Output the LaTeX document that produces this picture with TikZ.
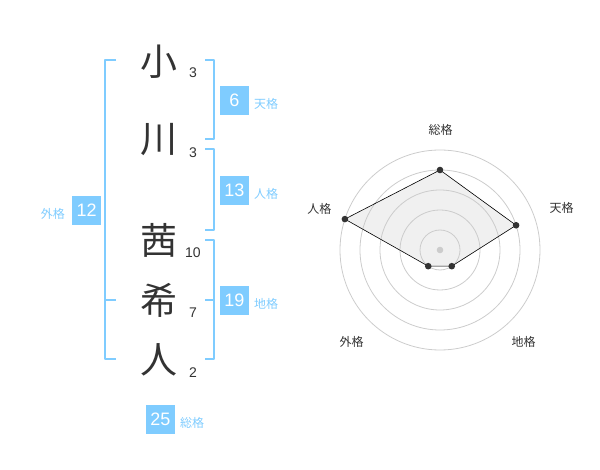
\documentclass[tikz,border=0pt]{standalone}
\usepackage{fontspec}
\setmainfont{Liberation Sans}
\newfontfamily\jfont{Noto Sans CJK JP}
\definecolor{kakublue}{RGB}{127,204,255}
\definecolor{inkgray}{RGB}{51,51,51}
\definecolor{ringgray}{RGB}{204,204,204}
\definecolor{areagray}{RGB}{240,240,240}
\tikzset{
  bigchar/.style={font=\jfont\fontsize{37}{37}\selectfont, text=inkgray, inner sep=0pt},
  strokes/.style={font=\fontsize{14}{14}\selectfont, text=inkgray, inner sep=0pt},
  numbox/.style={fill=kakublue, text=white, minimum size=29pt, inner sep=0pt, font=\fontsize{18}{18}\selectfont},
  kakutext/.style={text=kakublue, font=\jfont\fontsize{12}{12}\selectfont, inner sep=0pt},
  bracket/.style={draw=kakublue, line width=1.8pt},
  ring/.style={draw=ringgray, line width=0.8pt},
  axislabel/.style={text=inkgray, font=\jfont\fontsize{12}{12}\selectfont, inner sep=0pt},
}
\begin{document}
\begin{tikzpicture}[x=1pt, y=-1pt, line join=round]
\useasboundingbox (0,0) rectangle (600,470);
% name and strokes
\node[bigchar] (c1) at (159,62) {小};
\node[bigchar] (c2) at (159,140) {川};
\node[bigchar] (c3) at (159,240) {茜};
\node[bigchar] (c4) at (159,300) {希};
\node[bigchar] (c5) at (159,360) {人};
\node[strokes] (s1) at (193,73) {3};
\node[strokes] (s2) at (193,153) {3};
\node[strokes] (s3) at (193,253) {10};
\node[strokes] (s4) at (193,313) {7};
\node[strokes] (s5) at (193,373) {2};
% brackets
\draw[bracket] (116,60) -- (105,60) -- (105,359) -- (116,359);
\draw[bracket] (105,300) -- (116,300);
\draw[bracket] (205,60) -- (214,60) -- (214,139) -- (205,139);
\draw[bracket] (205,149) -- (214,149) -- (214,230) -- (205,230);
\draw[bracket] (205,240) -- (214,240) -- (214,359) -- (205,359);
\draw[bracket] (205,300) -- (214,300);
% scores
\node[numbox] (tenbox) at (234.3,100.3) {6};
\node[kakutext, anchor=west] (tentext) at (254,104) {天格};
\node[numbox] (jinbox) at (234.3,190.3) {13};
\node[kakutext, anchor=west] (jintext) at (254,194) {人格};
\node[numbox] (chibox) at (234.3,300.3) {19};
\node[kakutext, anchor=west] (chitext) at (254,304) {地格};
\node[numbox] (gaibox) at (86.7,210.3) {12};
\node[kakutext, anchor=east] (gaitext) at (65,214) {外格};
\node[numbox] (soubox) at (160.3,419.2) {25};
\node[kakutext, anchor=west] (soutext) at (180,423) {総格};
% radar
\begin{scope}[shift={(440,250)}, y=1pt]
  \coordinate (sou) at (90:80);
  \coordinate (ten) at (18:80);
  \coordinate (chi) at (-54:20);
  \coordinate (gai) at (-126:20);
  \coordinate (jin) at (162:100);
  \fill[areagray] (sou) -- (ten) -- (chi) -- (gai) -- (jin) -- cycle;
  \foreach \r in {20,40,...,100} \draw[ring] (0,0) circle (\r pt);
  \fill[ringgray] (0,0) circle (3.3pt);
  \draw[black, line width=0.6pt] (sou) -- (ten) -- (chi) -- (gai) -- (jin) -- cycle;
  \foreach \p in {sou,ten,chi,gai,jin} \fill[inkgray] (\p) circle (3.3pt);
  \node[axislabel] (soulabel) at (0.7,120) {総格};
  \node[axislabel] (tenlabel) at (121.7,41.7) {天格};
  \node[axislabel] (jinlabel) at (-120.7,41) {人格};
  \node[axislabel] (gailabel) at (-88.3,-92.3) {外格};
  \node[axislabel] (chilabel) at (83.7,-92.3) {地格};
\end{scope}
\end{tikzpicture}
\end{document}
